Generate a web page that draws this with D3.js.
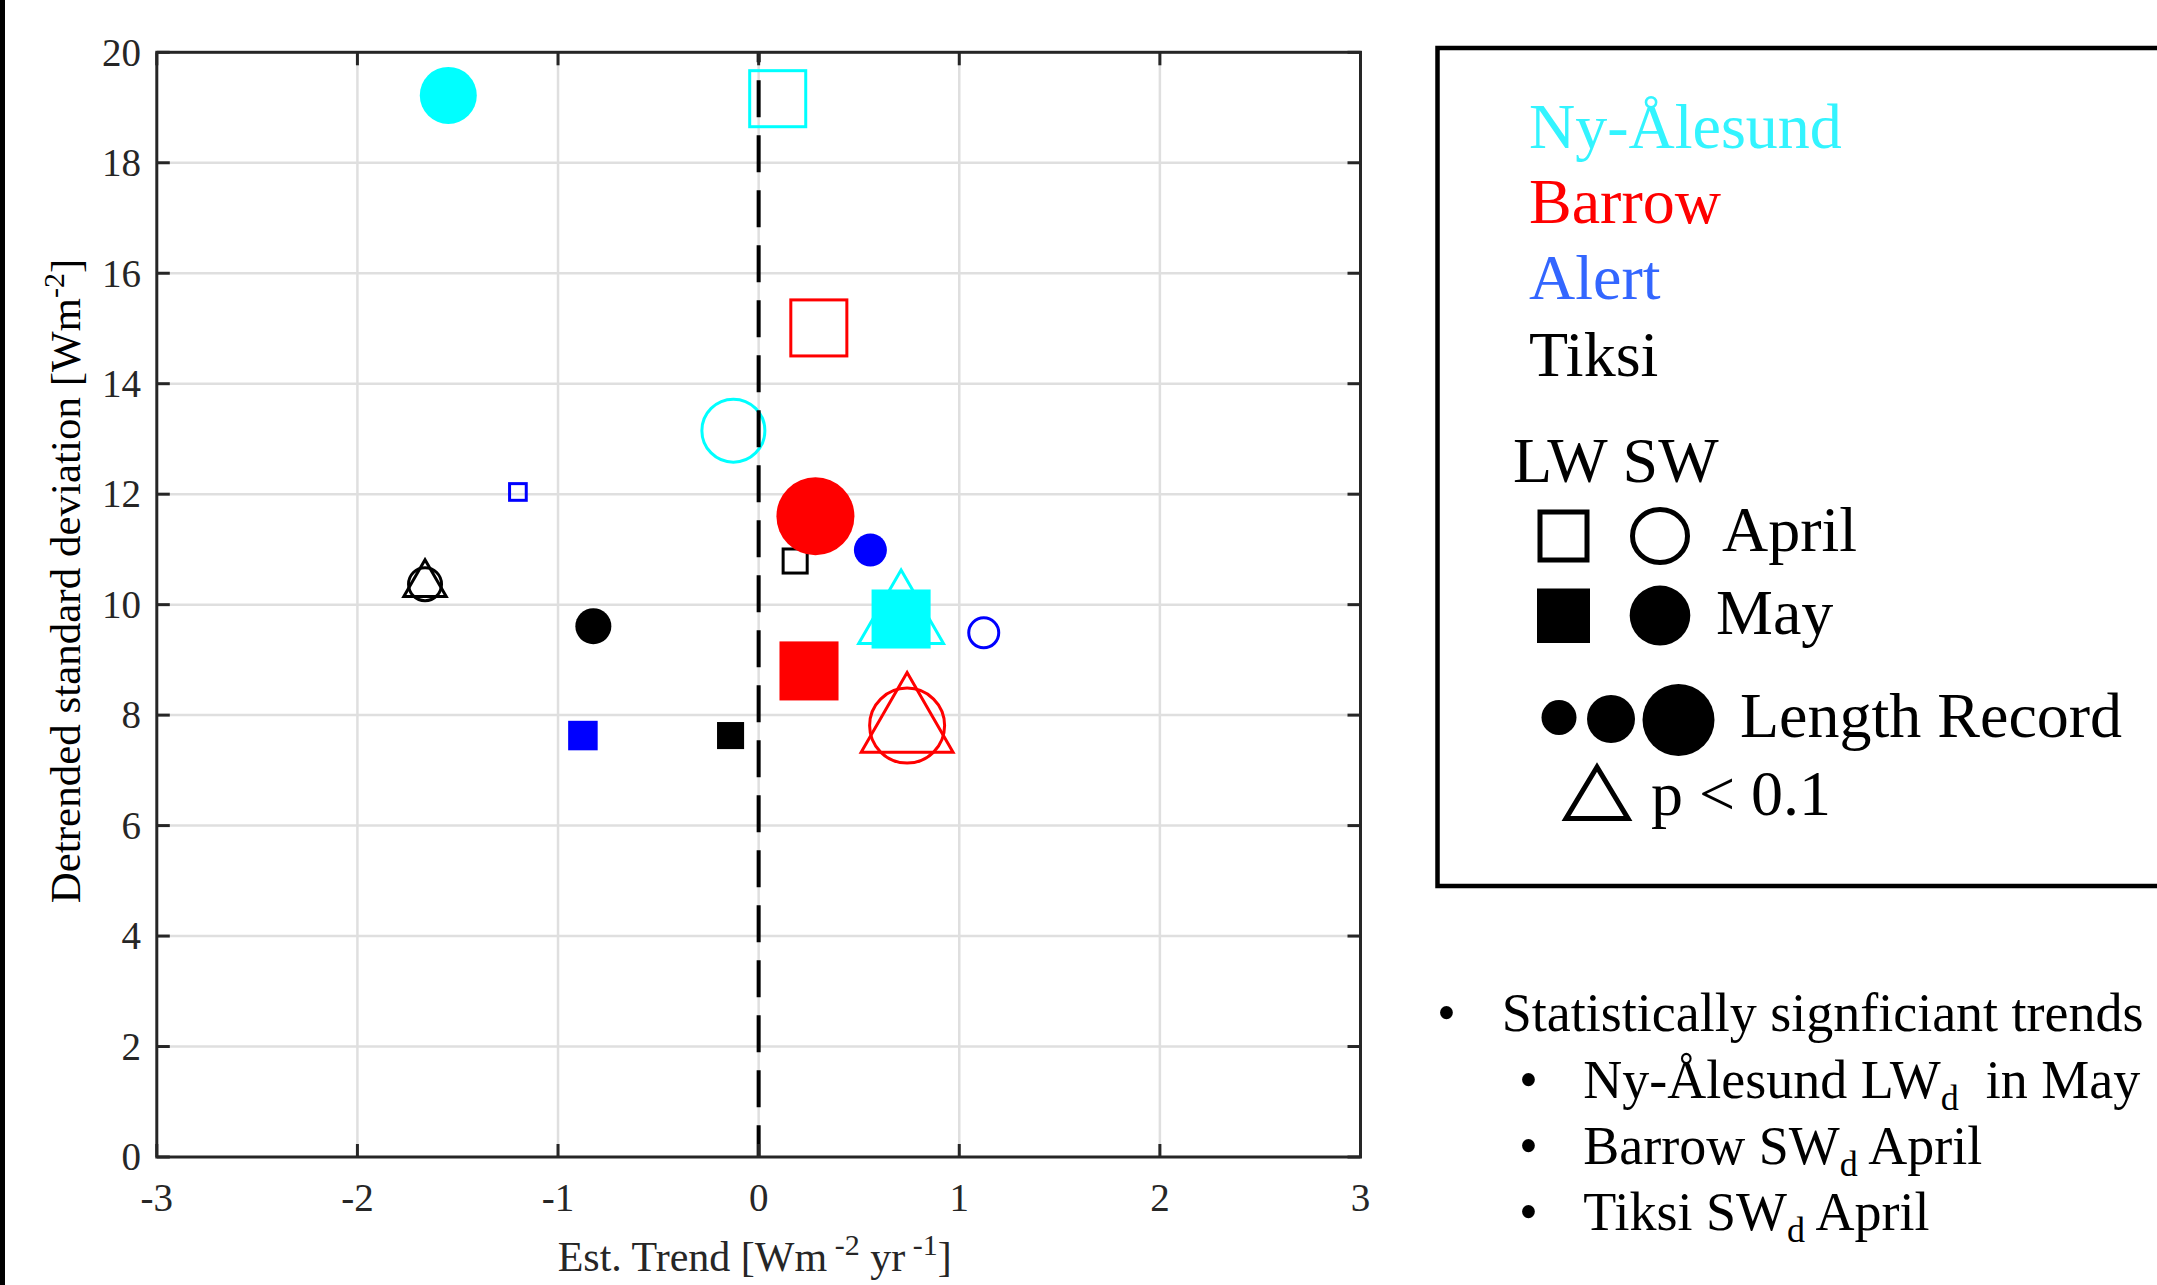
<!DOCTYPE html>
<html>
<head>
<meta charset="utf-8">
<script src="https://cdn.jsdelivr.net/npm/d3@7"></script>
<style>
  body { margin: 0; background: #fff; }
  svg { display: block; }
  text { font-family: "Liberation Serif", "Times New Roman", serif; }
</style>
</head>
<body>
<svg id="chart" width="2157" height="1285"></svg>
<script>
// Stations and the sixteen station / flux / month combinations
const stations = ["Ny-Ålesund", "Barrow", "Alert", "Tiksi"];
const pointStation = ["Ny-Ålesund","Ny-Ålesund","Ny-Ålesund","Ny-Ålesund",
                      "Barrow","Barrow","Barrow","Barrow",
                      "Alert","Alert","Alert","Alert",
                      "Tiksi","Tiksi","Tiksi","Tiksi"];
const pointFlux  = ["LW","LW","SW","SW","LW","LW","SW","SW","LW","LW","SW","SW","LW","LW","SW","SW"];
const pointMonth = ["April","May","April","May","April","May","April","May",
                    "April","May","April","May","April","May","April","May"];
// Estimated trend [W m-2 yr-1]
const trend = [0.095, 0.71, -0.126, -1.547,
               0.30, 0.251, 0.74, 0.283,
               -1.20, -0.876, 1.122, 0.557,
               0.182, -0.14, -1.663, -0.824];
// Detrended standard deviation [W m-2]
const detrendedSD = [19.16, 9.74, 13.15, 19.22,
                     15.01, 8.80, 7.81, 11.60,
                     12.04, 7.63, 9.49, 10.99,
                     10.79, 7.63, 10.37, 9.61];
// Length of record [years]
const recordLength = [24, 24, 22, 19,
                      24, 24, 26, 26,
                      8, 12, 11, 11,
                      11, 11, 12, 12];
// Trend significant at p < 0.1
const significant = [false, true, false, false,
                     false, false, true, false,
                     false, false, false, false,
                     false, false, true, false];

const xTicks = [-3, -2, -1, 0, 1, 2, 3];
const yTicks = [0, 2, 4, 6, 8, 10, 12, 14, 16, 18, 20];

const markerColor = { "Ny-Ålesund": "#00ffff", "Barrow": "#ff0000", "Alert": "#0000ff", "Tiksi": "#000000" };
const labelColor  = { "Ny-Ålesund": "#33f4ff", "Barrow": "#ff0000", "Alert": "#3366ff", "Tiksi": "#000000" };

const svg = d3.select("#chart");
const area = { left: 156.8, right: 1360.5, top: 52.3, bottom: 1157 };
const axisColor = "#262626";

const x = d3.scaleLinear().domain([-3, 3]).range([area.left, area.right]);
const y = d3.scaleLinear().domain([0, 20]).range([area.bottom, area.top]);
// marker diameter (px) from record length
const size = d3.scaleLinear().domain([0, 26]).range([0, 78]);

// thin rule on the figure's left edge
svg.append("rect").attr("x", 0).attr("y", 0).attr("width", 5).attr("height", 1285).attr("fill", "#000");

// grid
const grid = svg.append("g").attr("stroke", "#dfdfdf").attr("stroke-width", 2.5);
grid.selectAll(".gx").data(xTicks.slice(1, -1)).join("line")
  .attr("x1", d => x(d)).attr("x2", d => x(d)).attr("y1", area.top).attr("y2", area.bottom);
grid.selectAll(".gy").data(yTicks.slice(1, -1)).join("line")
  .attr("x1", area.left).attr("x2", area.right).attr("y1", d => y(d)).attr("y2", d => y(d));

// points
const pts = trend.map((t, i) => ({
  t, sd: detrendedSD[i], st: pointStation[i], flux: pointFlux[i], month: pointMonth[i],
  len: recordLength[i], sig: significant[i]
}));
const sw = 3;

// significance triangles underneath
svg.append("g").selectAll("path").data(pts.filter(d => d.sig)).join("path")
  .attr("d", d => {
    const R = 0.68 * size(d.len), cx = x(d.t), cy = y(d.sd);
    const h = R * Math.sqrt(3) / 2;
    return `M${cx},${cy - R}L${cx + h},${cy + R / 2}L${cx - h},${cy + R / 2}Z`;
  })
  .attr("fill", "none").attr("stroke", d => markerColor[d.st]).attr("stroke-width", sw);

// longwave: squares
svg.append("g").selectAll("rect").data(pts.filter(d => d.flux === "LW")).join("rect")
  .each(function (d) {
    const filled = d.month === "May";
    const s = 0.82 * size(d.len) - (filled ? 0 : sw);
    d3.select(this)
      .attr("x", x(d.t) - s / 2).attr("y", y(d.sd) - s / 2)
      .attr("width", s).attr("height", s)
      .attr("fill", filled ? markerColor[d.st] : "none")
      .attr("stroke", filled ? "none" : markerColor[d.st])
      .attr("stroke-width", sw);
  });

// shortwave: circles
svg.append("g").selectAll("circle").data(pts.filter(d => d.flux === "SW")).join("circle")
  .each(function (d) {
    const filled = d.month === "May";
    const r = (size(d.len) - (filled ? 0 : sw)) / 2;
    d3.select(this)
      .attr("cx", x(d.t)).attr("cy", y(d.sd)).attr("r", r)
      .attr("fill", filled ? markerColor[d.st] : "none")
      .attr("stroke", filled ? "none" : markerColor[d.st])
      .attr("stroke-width", sw);
  });

// zero-trend reference
svg.append("line")
  .attr("x1", x(0)).attr("x2", x(0)).attr("y1", y(20)).attr("y2", y(0))
  .attr("stroke", "#000").attr("stroke-width", 4)
  .attr("stroke-dasharray", "37 18").attr("stroke-dashoffset", 27);

// axes box and inward ticks
const ax = svg.append("g").attr("stroke", axisColor).attr("stroke-width", 3);
ax.append("rect").attr("x", area.left).attr("y", area.top)
  .attr("width", area.right - area.left).attr("height", area.bottom - area.top).attr("fill", "none");
const tl = 13;
xTicks.forEach(v => {
  ax.append("line").attr("x1", x(v)).attr("x2", x(v)).attr("y1", area.bottom).attr("y2", area.bottom - tl);
  ax.append("line").attr("x1", x(v)).attr("x2", x(v)).attr("y1", area.top).attr("y2", area.top + tl);
});
yTicks.forEach(v => {
  ax.append("line").attr("x1", area.left).attr("x2", area.left + tl).attr("y1", y(v)).attr("y2", y(v));
  ax.append("line").attr("x1", area.right).attr("x2", area.right - tl).attr("y1", y(v)).attr("y2", y(v));
});

// tick labels
svg.append("g").selectAll("text").data(xTicks).join("text")
  .attr("x", d => x(d)).attr("y", 1211).attr("text-anchor", "middle")
  .attr("font-size", 39).attr("fill", axisColor).text(d => String(d));
svg.append("g").selectAll("text").data(yTicks).join("text")
  .attr("x", 141).attr("y", d => y(d)).attr("dy", "0.34em").attr("text-anchor", "end")
  .attr("font-size", 39).attr("fill", axisColor).text(d => String(d));

// axis titles
const xt = svg.append("text").attr("x", (area.left + area.right) / 2 - 4).attr("y", 1271)
  .attr("text-anchor", "middle").attr("font-size", 42).attr("fill", axisColor);
xt.append("tspan").text("Est. Trend [Wm");
xt.append("tspan").attr("dy", -16).attr("font-size", 30).text(" -2");
xt.append("tspan").attr("dy", 16).text(" yr");
xt.append("tspan").attr("dy", -16).attr("font-size", 30).text(" -1");
xt.append("tspan").attr("dy", 16).text("]");

const yt = svg.append("text").attr("transform", `translate(80,581) rotate(-90)`)
  .attr("text-anchor", "middle").attr("font-size", 43).attr("fill", "#000");
yt.append("tspan").text("Detrended standard deviation [Wm");
yt.append("tspan").attr("dy", -16).attr("font-size", 30).text("-2");
yt.append("tspan").attr("dy", 16).text("]");

// legend
const lg = svg.append("g");
const fsL = 64;
lg.append("rect").attr("x", 1437.5).attr("y", 48).attr("width", 800).attr("height", 838)
  .attr("fill", "none").attr("stroke", "#000").attr("stroke-width", 4.5);
const stationBaselines = [148, 223, 298.5, 376];
lg.selectAll(".st").data(stations).join("text")
  .attr("x", 1529).attr("y", (d, i) => stationBaselines[i])
  .attr("font-size", fsL).attr("fill", d => labelColor[d]).text(d => d);
lg.append("text").attr("x", 1513).attr("y", 482).attr("font-size", fsL).text("LW SW");
const lsw = 5;
lg.append("rect").attr("x", 1540).attr("y", 512).attr("width", 47).attr("height", 48)
  .attr("fill", "none").attr("stroke", "#000").attr("stroke-width", lsw);
lg.append("ellipse").attr("cx", 1660).attr("cy", 536).attr("rx", 27.5).attr("ry", 26.5)
  .attr("fill", "none").attr("stroke", "#000").attr("stroke-width", lsw);
lg.append("text").attr("x", 1722).attr("y", 551).attr("font-size", fsL).text("April");
lg.append("rect").attr("x", 1537).attr("y", 588.5).attr("width", 53).attr("height", 54.5).attr("fill", "#000");
lg.append("ellipse").attr("cx", 1660).attr("cy", 615.6).attr("rx", 30.3).attr("ry", 30).attr("fill", "#000");
lg.append("text").attr("x", 1716).attr("y", 634).attr("font-size", fsL).text("May");
[[1559, 717.5, 35], [1611, 719, 48], [1678.5, 720, 72]].forEach(([cx, cy, d]) => {
  lg.append("circle").attr("cx", cx).attr("cy", cy).attr("r", d / 2).attr("fill", "#000");
});
lg.append("text").attr("x", 1740).attr("y", 736.5).attr("font-size", fsL).text("Length Record");
lg.append("path").attr("d", "M1597,767L1628,818.5L1566,818.5Z")
  .attr("fill", "none").attr("stroke", "#000").attr("stroke-width", lsw).attr("stroke-linejoin", "miter");
lg.append("text").attr("x", 1651).attr("y", 815).attr("font-size", fsL).text("p < 0.1");

// notes on significant trends
const notes = svg.append("g").attr("font-size", 54).attr("fill", "#000");
notes.append("text").attr("x", 1437).attr("y", 1031).text("•");
notes.append("text").attr("x", 1501.7).attr("y", 1031).text("Statistically signficiant trends");
const sub = [
  ["Ny-Ålesund LW", "d", "  in May"],
  ["Barrow SW", "d", " April"],
  ["Tiksi SW", "d", " April"]
];
const subBaselines = [1098, 1164, 1230];
sub.forEach((parts, i) => {
  notes.append("text").attr("x", 1519).attr("y", subBaselines[i]).text("•");
  const t = notes.append("text").attr("x", 1583.3).attr("y", subBaselines[i]).attr("xml:space", "preserve");
  t.append("tspan").text(parts[0]);
  t.append("tspan").attr("dy", 12).attr("font-size", 36).text(parts[1]);
  t.append("tspan").attr("dy", -12).text(parts[2]);
});
</script>
</body>
</html>
